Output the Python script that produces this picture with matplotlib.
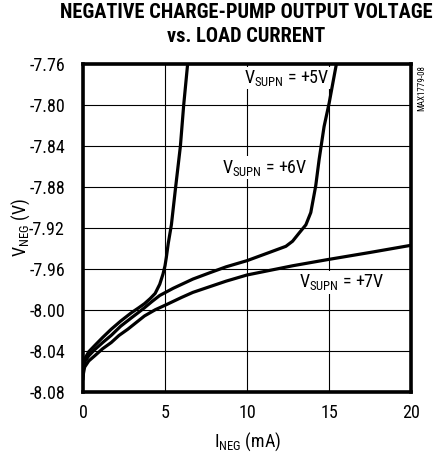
import matplotlib
matplotlib.use('Agg')
import matplotlib.pyplot as plt

# font: condensed sans like the datasheet
plt.rcParams['font.family'] = ['Roboto Condensed', 'DejaVu Sans']
plt.rcParams['mathtext.fontset'] = 'custom'
plt.rcParams['mathtext.rm'] = 'Roboto Condensed'
plt.rcParams['mathtext.it'] = 'Roboto Condensed'

# data (I_NEG in mA, V_NEG in V)
i5 = [0, 0.03, 0.1, 0.35, 0.71, 1.2, 1.72, 2.3, 2.94, 3.4, 3.75, 4.1, 4.4, 4.68, 4.88, 5.0, 5.08, 5.2, 5.39, 5.65, 5.94, 6.14, 6.38]
v5 = [-8.062, -8.055, -8.048, -8.041, -8.035, -8.027, -8.019, -8.011, -8.003, -7.998, -7.994, -7.989, -7.984, -7.975, -7.965, -7.957, -7.949, -7.935, -7.917, -7.880, -7.840, -7.800, -7.760]

i6 = [0, 0.03, 0.1, 0.35, 0.71, 1.2, 1.72, 2.3, 2.94, 3.35, 3.75, 4.2, 4.68, 5.5, 6.7, 7.7, 8.73, 10.0, 11.36, 12.37, 12.78, 13.18, 13.59, 13.89, 14.19, 14.40, 14.70, 15.01, 15.31, 15.45]
v6 = [-8.064, -8.057, -8.051, -8.045, -8.039, -8.032, -8.025, -8.016, -8.008, -8.003, -7.998, -7.992, -7.986, -7.979, -7.970, -7.964, -7.958, -7.952, -7.944, -7.938, -7.933, -7.925, -7.917, -7.905, -7.879, -7.853, -7.821, -7.798, -7.772, -7.760]

i7 = [0, 0.03, 0.1, 0.35, 0.71, 1.2, 1.72, 2.2, 2.73, 3.2, 3.75, 4.4, 5.08, 6.0, 6.7, 8.73, 10.0, 12.78, 14.9, 17.5, 20.0]
v7 = [-8.068, -8.062, -8.056, -8.050, -8.045, -8.038, -8.032, -8.025, -8.019, -8.013, -8.006, -8.000, -7.995, -7.988, -7.983, -7.972, -7.966, -7.957, -7.951, -7.944, -7.937]

xticks = [0, 5, 10, 15, 20]
yticks = [-8.08, -8.04, -8.00, -7.96, -7.92, -7.88, -7.84, -7.80, -7.76]

fig = plt.figure(figsize=(4.35, 4.58), dpi=100)
ax = fig.add_axes([0.1908, 0.1448, 0.7540, 0.7152])

for x, y in [(i5, v5), (i6, v6), (i7, v7)]:
    ax.plot(x, y, color='black', lw=2.3, solid_capstyle='round', zorder=3)

ax.set_xlim(0, 20)
ax.set_ylim(-8.08, -7.76)
ax.set_xticks(xticks)
ax.set_yticks(yticks)
ax.set_yticklabels(['%.2f' % t for t in yticks])
ax.tick_params(length=0, labelsize=13, colors='black')
ax.tick_params(axis='x', pad=9)
ax.tick_params(axis='y', pad=13)
ax.grid(True, color='black', lw=0.8)
for s in ax.spines.values():
    s.set_linewidth(2.6)
    s.set_zorder(4)

box = dict(facecolor='white', edgecolor='none', pad=1.0)
ax.text(9.8, -7.7736, r'V$_{\mathrm{SUPN}}$ = +5V', fontsize=13, ha='left', va='center', bbox=box, zorder=2)
ax.text(8.45, -7.861, r'V$_{\mathrm{SUPN}}$ = +6V', fontsize=13, ha='left', va='center', bbox=box, zorder=2)
ax.text(13.18, -7.973, r'V$_{\mathrm{SUPN}}$ = +7V', fontsize=13, ha='left', va='center', bbox=box, zorder=2)

ax.set_xlabel(r'I$_{\mathrm{NEG}}$ (mA)', fontsize=13, labelpad=6)
ax.set_ylabel(r'V$_{\mathrm{NEG}}$ (V)', fontsize=13, labelpad=-2)

fig.text(0.566, 0.994, 'NEGATIVE CHARGE-PUMP OUTPUT VOLTAGE\nvs. LOAD CURRENT',
         ha='center', va='top', fontsize=14.7, fontweight='black', linespacing=1.38)
fig.text(0.970, 0.858, 'MAX1779-08', rotation=90, ha='center', va='top', fontsize=6.5)

fig.savefig('out.png', dpi=100)
